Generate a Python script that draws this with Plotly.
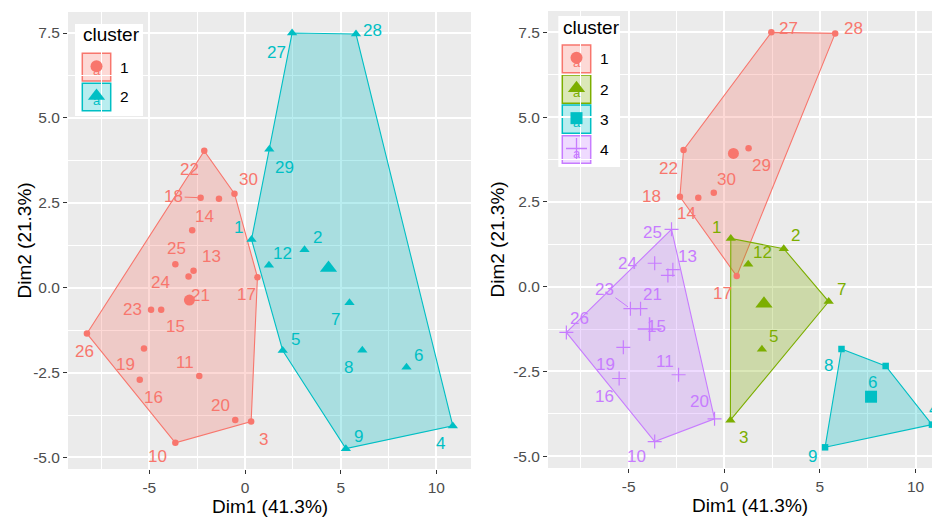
import plotly.graph_objects as go
import numpy as np

W, H = 940, 517
OFF = 8  # page body margin: figure is drawn 8px right/down in the window
FONT = "Liberation Sans, Arial, sans-serif"

# ---------------- data ----------------
obs_labels = [str(i) for i in range(1, 31)]
dim1 = [0.34, 3.11, 0.32, 10.86, 1.97, 8.44, 5.46, 6.13, 5.27, -3.64,
        -2.39, 1.25, -2.69, -1.36, -4.38, -5.50, 0.65, -2.32, -5.28, -0.51,
        -2.95, -2.13, -4.91, -3.64, -2.76, -8.26, 2.46, 5.80, 1.27, -0.55]
dim2 = [1.42, 1.12, -3.94, -4.07, -1.85, -2.34, -0.44, -1.84, -4.74, -4.57,
        -2.60, 0.66, 0.50, 2.62, -0.65, -2.71, 0.31, 2.65, -1.79, -3.90,
        0.33, 4.03, -0.65, 0.69, 1.69, -1.35, 7.50, 7.47, 4.08, 2.77]
cluster_k2 = [2, 2, 1, 2, 2, 2, 2, 2, 2, 1,
              1, 2, 1, 1, 1, 1, 1, 1, 1, 1,
              1, 1, 1, 1, 1, 1, 2, 2, 2, 1]
cluster_k4 = [2, 2, 2, 3, 2, 3, 2, 3, 3, 4,
              4, 2, 4, 1, 4, 4, 1, 1, 4, 4,
              4, 1, 4, 4, 4, 4, 1, 1, 1, 1]

colors_k2 = ["#F8766D", "#00BFC4"]
colors_k4 = ["#F8766D", "#7CAE00", "#00BFC4", "#C77CFF"]
symbols_k2 = ["circle", "triangle-up"]
symbols_k4 = ["circle", "triangle-up", "square", "cross-thin"]

x_tickvals = [-5, 0, 5, 10]
x_ticktext = ["-5", "0", "5", "10"]
x_minor = [-7.5, -2.5, 2.5, 7.5]
y_tickvals = [-5, -2.5, 0, 2.5, 5, 7.5]
y_ticktext = ["-5.0", "-2.5", "0.0", "2.5", "5.0", "7.5"]
y_minor = [-3.75, -1.25, 1.25, 3.75, 6.25]

x_title = "Dim1 (41.3%)"
y_title = "Dim2 (21.3%)"
legend_title = "cluster"

# ---------------- label placement (pixel offsets, screen down = +) ----------------
offsets_left = {
    "1": (-13, -12), "2": (13, -12), "3": (12, 18), "4": (-12, 18), "5": (13, -11),
    "6": (12, -12), "7": (-14, 17), "8": (-14, 17), "9": (13, -12), "10": (-18, 14),
    "11": (-14, -13), "12": (14, -12), "13": (18, -14), "14": (-14, 18), "15": (14, 17),
    "16": (14, 18), "17": (-11, 17), "19": (-18, 16), "20": (-15, -15),
    "21": (12, 19), "22": (-15, 19), "23": (-19, 0), "24": (-15, 18), "25": (-16, 18),
    "26": (-2, 18), "27": (-16, 19), "28": (17, -4), "29": (15, 18), "30": (14, -14),
}
segments_left = {"18": (-27, -1)}
offsets_right = {
    "1": (-14, -11), "2": (12, -13), "3": (13, 17), "4": (2, -15), "5": (12, -13),
    "6": (-13, 17), "7": (13, -12), "8": (-13, 16), "9": (-13, 9), "10": (-18, 15),
    "11": (-14, -13), "12": (14, -12), "13": (15, -13), "14": (-12, 16), "15": (16, 18),
    "16": (-15, 18), "17": (-14, 17), "18": (-28, 0), "19": (-18, 17), "20": (-15, -17),
    "21": (-15, 19), "22": (-15, 18), "24": (-27, 0), "25": (-19, 3),
    "26": (13, -14), "27": (17, -4), "28": (18, -5), "29": (13, 17), "30": (13, -13),
}
segments_right = {"23": (-26, -19)}

panels = [
    dict(xa="x", ya="y", px=(68, 471), py=(12, 469), xr=(-9.25, 11.81), yr=(-5.34, 8.12),
         clusters=cluster_k2, colors=colors_k2, symbols=symbols_k2,
         offsets=offsets_left, segments=segments_left,
         xt=(270, 506.5), yt=(24, 240.5),
         legend=dict(box=(75, 24, 143, 116), title=(81, 35), labx=124,
                     keys=[(82.3, 53.3, 110.7, 81), (82.3, 83.3, 110.7, 110.7)])),
    dict(xa="x2", ya="y2", px=(548, 948), py=(11, 468), xr=(-9.22, 11.70), yr=(-5.35, 8.13),
         clusters=cluster_k4, colors=colors_k4, symbols=symbols_k4,
         offsets=offsets_right, segments=segments_right,
         xt=(750, 505.5), yt=(497, 239.5),
         legend=dict(box=(558.3, 16, 620, 167), title=(560.5, 27.7), labx=604.3,
                     keys=[(562.3, 45, 590.7, 72.7), (562.3, 75, 590.7, 103.3),
                           (562.3, 105, 590.7, 133.3), (562.3, 135.7, 590.7, 163.3)])),
]

ALPHA = 0.28


def rgba(hexc, a):
    h = hexc.lstrip("#")
    r, g, b = int(h[0:2], 16), int(h[2:4], 16), int(h[4:6], 16)
    return f"rgba({r},{g},{b},{a})"


def hull(points):
    pts = sorted(set(points))
    if len(pts) <= 2:
        return pts

    def cross(o, a, b):
        return (a[0] - o[0]) * (b[1] - o[1]) - (a[1] - o[1]) * (b[0] - o[0])
    lower, upper = [], []
    for p in pts:
        while len(lower) >= 2 and cross(lower[-2], lower[-1], p) <= 0:
            lower.pop()
        lower.append(p)
    for p in reversed(pts):
        while len(upper) >= 2 and cross(upper[-2], upper[-1], p) <= 0:
            upper.pop()
        upper.append(p)
    return lower[:-1] + upper[:-1]


def p2d(P, xp, yp):
    x = P["xr"][0] + (xp - P["px"][0]) / (P["px"][1] - P["px"][0]) * (P["xr"][1] - P["xr"][0])
    y = P["yr"][1] - (yp - P["py"][0]) / (P["py"][1] - P["py"][0]) * (P["yr"][1] - P["yr"][0])
    return x, y


def paper(xp, yp):
    return (xp - OFF) / W, 1 - (yp - OFF) / H


fig = go.Figure()
shapes = []
annotations = []

small_size = {"circle": 6.5, "triangle-up": 9, "square": 6.5, "cross-thin": 10}
big_size = {"circle": 11, "triangle-up": 15, "square": 12, "cross-thin": 17}
key_size = {"circle": 12, "triangle-up": 15, "square": 12, "cross-thin": 15}

X = np.array(dim1)
Y = np.array(dim2)

for P in panels:
    cl = np.array(P["clusters"])
    ks = sorted(set(P["clusters"]))
    # hulls
    for k in ks:
        m = cl == k
        hp = hull(list(zip(X[m].tolist(), Y[m].tolist())))
        hx = [p[0] for p in hp] + [hp[0][0]]
        hy = [p[1] for p in hp] + [hp[0][1]]
        c = P["colors"][k - 1]
        fig.add_trace(go.Scatter(x=hx, y=hy, xaxis=P["xa"], yaxis=P["ya"], mode="lines",
                                 fill="toself", fillcolor=rgba(c, ALPHA),
                                 line=dict(color=c, width=1.1), hoverinfo="skip"))
    # points and centroids
    for k in ks:
        m = cl == k
        c = P["colors"][k - 1]
        s = P["symbols"][k - 1]
        lw = 1.2 if s == "cross-thin" else 0
        fig.add_trace(go.Scatter(x=X[m], y=Y[m], xaxis=P["xa"], yaxis=P["ya"], mode="markers",
                                 marker=dict(symbol=s, size=small_size[s], color=c,
                                             line=dict(color=c, width=lw)),
                                 hoverinfo="skip"))
        fig.add_trace(go.Scatter(x=[X[m].mean()], y=[Y[m].mean()], xaxis=P["xa"], yaxis=P["ya"],
                                 mode="markers",
                                 marker=dict(symbol=s, size=big_size[s], color=c,
                                             line=dict(color=c, width=1.5 if s == "cross-thin" else 0)),
                                 hoverinfo="skip"))
    # labels
    for i, lab in enumerate(obs_labels):
        c = P["colors"][P["clusters"][i] - 1]
        if lab in P["segments"]:
            ax, ay = P["segments"][lab]
            annotations.append(dict(x=dim1[i], y=dim2[i], xref=P["xa"], yref=P["ya"], text=lab,
                                    showarrow=True, arrowhead=0, arrowwidth=1, arrowcolor=c,
                                    ax=ax, ay=ay, axref="pixel", ayref="pixel", standoff=3,
                                    font=dict(family=FONT, size=17, color=c)))
        else:
            dx, dy = P["offsets"][lab]
            annotations.append(dict(x=dim1[i], y=dim2[i], xref=P["xa"], yref=P["ya"], text=lab,
                                    showarrow=False, xshift=dx, yshift=-dy,
                                    font=dict(family=FONT, size=17, color=c)))
    # legend
    L = P["legend"]
    x0, y0 = paper(L["box"][0], L["box"][1])
    x1, y1 = paper(L["box"][2], L["box"][3])
    shapes.append(dict(type="rect", xref="paper", yref="paper", x0=x0, y0=y1, x1=x1, y1=y0,
                       fillcolor="white", line=dict(width=0), layer="between"))
    tx, ty = paper(*L["title"])
    annotations.append(dict(x=tx, y=ty, xref="paper", yref="paper", text=legend_title,
                            showarrow=False, xanchor="left", yanchor="middle",
                            font=dict(family=FONT, size=19, color="black")))
    for j, k in enumerate(ks):
        c = P["colors"][k - 1]
        s = P["symbols"][k - 1]
        kx0, ky0, kx1, ky1 = L["keys"][j]
        a0, b0 = paper(kx0, ky0)
        a1, b1 = paper(kx1, ky1)
        shapes.append(dict(type="rect", xref="paper", yref="paper", x0=a0, y0=b1, x1=a1, y1=b0,
                           fillcolor=rgba(c, ALPHA), line=dict(color=c, width=1.5), layer="between"))
        cxp, cyp = (kx0 + kx1) / 2, (ky0 + ky1) / 2
        ax_, ay_ = p2d(P, cxp, cyp + 5)
        fig.add_trace(go.Scatter(x=[ax_], y=[ay_], xaxis=P["xa"], yaxis=P["ya"], mode="text",
                                 text=["a"], textfont=dict(family=FONT, size=13, color=c),
                                 hoverinfo="skip"))
        mx, my = p2d(P, cxp, cyp - 1)
        fig.add_trace(go.Scatter(x=[mx], y=[my], xaxis=P["xa"], yaxis=P["ya"], mode="markers",
                                 marker=dict(symbol=s, size=key_size[s], color=c,
                                             line=dict(color=c, width=1.3 if s == "cross-thin" else 0)),
                                 hoverinfo="skip"))
        lx, ly = paper(L["labx"], cyp)
        annotations.append(dict(x=lx, y=ly, xref="paper", yref="paper", text=str(k),
                                showarrow=False, xanchor="center", yanchor="middle",
                                font=dict(family=FONT, size=15.5, color="black")))
    # axis titles
    xtx, xty = paper(*P["xt"])
    annotations.append(dict(x=xtx, y=xty, xref="paper", yref="paper", text=x_title,
                            showarrow=False, xanchor="center", yanchor="middle",
                            font=dict(family=FONT, size=19, color="black")))
    ytx, yty = paper(*P["yt"])
    annotations.append(dict(x=ytx, y=yty, xref="paper", yref="paper", text=y_title,
                            showarrow=False, xanchor="center", yanchor="middle", textangle=-90,
                            font=dict(family=FONT, size=19, color="black")))

axis_common = dict(showline=False, zeroline=False, showgrid=True, gridcolor="white",
                   gridwidth=1.6, ticks="outside", ticklen=4, tickwidth=1.1,
                   tickcolor="#333333", tickfont=dict(family=FONT, size=15.5, color="#4D4D4D"),
                   fixedrange=True)

layout = dict(width=W, height=H, margin=dict(l=0, r=0, t=0, b=0),
              paper_bgcolor="white", plot_bgcolor="#EBEBEB", showlegend=False,
              shapes=shapes, annotations=annotations)
for P in panels:
    xname = "xaxis" if P["xa"] == "x" else "xaxis" + P["xa"][1:]
    yname = "yaxis" if P["ya"] == "y" else "yaxis" + P["ya"][1:]
    d0 = (P["px"][0] - OFF) / W
    d1 = min(1.0, (P["px"][1] - OFF) / W)
    e0 = 1 - (P["py"][1] - OFF) / H
    e1 = 1 - (P["py"][0] - OFF) / H
    layout[xname] = dict(axis_common, domain=[d0, d1],
                         range=list(P["xr"]), anchor=P["ya"],
                         tickvals=x_tickvals, ticktext=x_ticktext,
                         minor=dict(tickvals=x_minor, showgrid=True, gridcolor="white",
                                    gridwidth=0.8, ticks=""))
    layout[yname] = dict(axis_common, domain=[e0, e1],
                         range=list(P["yr"]), anchor=P["xa"],
                         tickvals=y_tickvals, ticktext=y_ticktext,
                         minor=dict(tickvals=y_minor, showgrid=True, gridcolor="white",
                                    gridwidth=0.8, ticks=""))

fig.update_layout(**layout)
fig.write_html("out.html")
